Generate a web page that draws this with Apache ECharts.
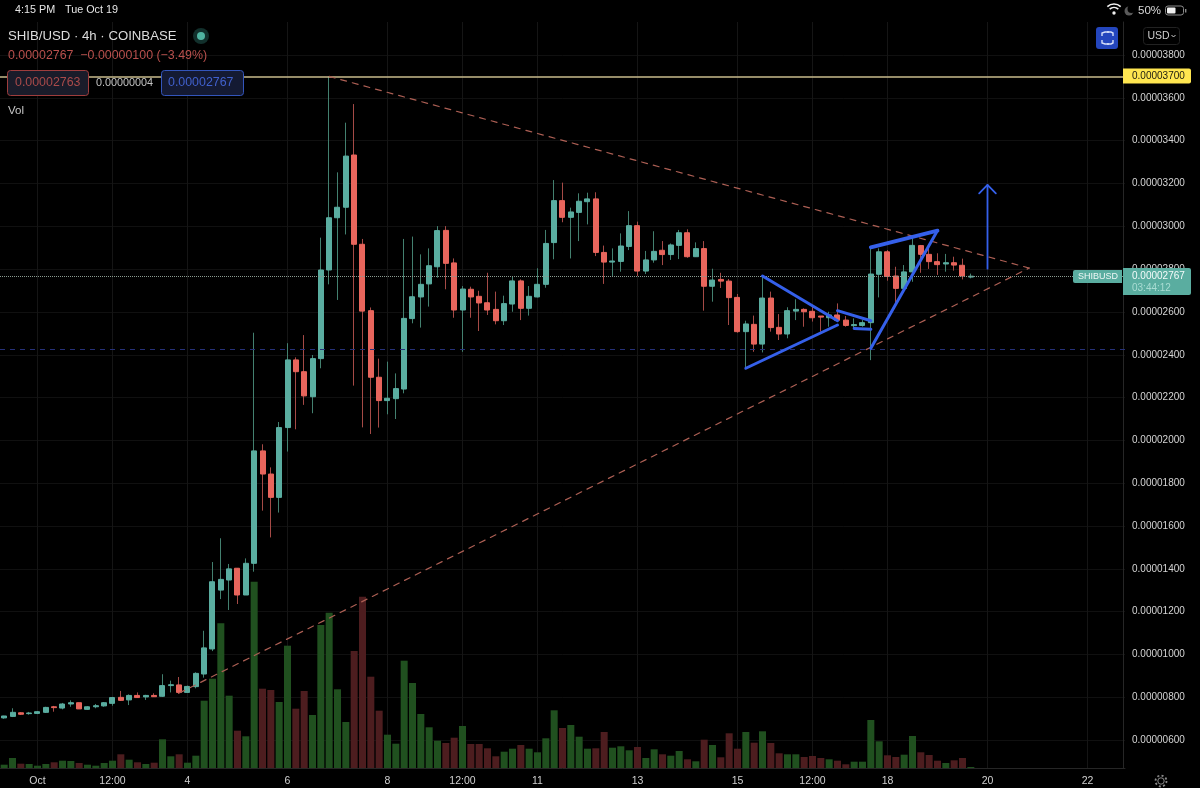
<!DOCTYPE html>
<html><head><meta charset="utf-8">
<style>html,body{margin:0;padding:0;background:#000}#c{width:1200px;height:788px}</style>
<script src="https://cdn.jsdelivr.net/npm/echarts@6/dist/echarts.min.js"></script>
</head><body><div id="c"></div>
<script>
// Prices are in units of 0.00000001 USD
const days = ['09-30','10-01','10-02','10-03','10-04','10-05','10-06','10-07','10-08','10-09','10-10','10-11','10-12','10-13','10-14','10-15','10-16','10-17','10-18','10-19','10-20','10-21','10-22','10-23'];
const hours = ['00:00','04:00','08:00','12:00','16:00','20:00'];
const categories = [];
days.forEach(d => hours.forEach(h => categories.push(d + ' ' + h)));
categories.splice(0, 2);
categories.length = 135;

const opens = [704,711,728,724,725,730,756,750,769,775,
744,756,760,772,800,788,809,802,809,805,
855,858,823,850,909,1026,1301,1348,1403,1278,
1426,1951,1843,1734,2060,2376,2321,2204,2382,2796,
3040,3089,3333,2916,2606,2295,2186,2195,2240,2569,
2670,2731,2811,2981,2829,2609,2706,2673,2643,2612,
2559,2637,2745,2617,2670,2729,2924,3120,3042,3065,
3115,3128,2878,2833,2836,2906,3003,2791,2843,2888,
2868,2911,2970,2858,2896,2720,2752,2744,2668,2508,
2542,2450,2665,2528,2497,2604,2612,2603,2581,2573,
2586,2562,2536,2537,2550,2776,2881,2768,2710,2787,
2910,2869,2835,2824,2830,2818,2763];
const closes = [713,730,721,727,733,753,752,769,775,746,
756,761,775,799,786,809,799,809,803,855,
859,823,851,912,1031,1340,1351,1400,1278,1426,
1951,1843,1734,2060,2376,2321,2208,2382,2796,3040,
3089,3328,2916,2604,2295,2186,2197,2242,2570,2671,
2729,2816,2980,2827,2609,2707,2670,2642,2609,2559,
2639,2745,2617,2673,2729,2920,3120,3042,3067,3117,
3128,2878,2833,2838,2908,3003,2791,2843,2883,2868,
2913,2970,2858,2896,2720,2749,2744,2667,2508,2544,
2450,2665,2527,2497,2606,2612,2601,2573,2576,2586,
2561,2537,2541,2550,2777,2881,2766,2710,2787,2911,
2869,2835,2821,2830,2819,2768,2767];
const highs = [714,749,730,732,736,756,760,774,786,775,
758,769,778,802,830,814,823,812,819,908,
878,895,855,917,1111,1432,1543,1423,1403,1449,
2503,1982,1874,2086,2454,2388,2492,2399,2947,3702,
3252,3484,3571,2941,2621,2382,2368,2313,2941,2952,
2869,2897,3001,3001,2850,2721,2718,2699,2783,2695,
2676,2765,2752,2721,2804,2983,3216,3204,3087,3154,
3157,3159,2910,2897,2967,3071,3022,2885,2977,2931,
2920,2983,2986,2925,2931,2802,2783,2754,2684,2559,
2583,2768,2695,2590,2622,2659,2617,2632,2581,2601,
2640,2581,2570,2562,2897,2897,2889,2811,2819,2955,
2913,2913,2874,2871,2858,2849,2779];
const lows = [700,708,718,719,722,727,733,744,756,746,
742,749,756,761,783,764,797,788,802,803,
823,816,822,842,892,1016,1259,1208,1236,1278,
1387,1672,1547,1663,1948,2052,2166,2127,2337,2729,
2656,2962,2256,2061,2030,2060,2122,2100,2220,2547,
2527,2625,2760,2706,2573,2414,2573,2511,2586,2542,
2539,2601,2562,2583,2668,2713,2846,3019,2850,2931,
3009,2861,2731,2768,2788,2889,2768,2777,2830,2819,
2843,2847,2853,2857,2606,2648,2712,2539,2503,2337,
2414,2411,2508,2469,2477,2562,2531,2555,2508,2531,
2559,2531,2523,2531,2375,2668,2746,2640,2710,2741,
2783,2801,2773,2788,2793,2752,2757];
const volumes = [3.3,10,4.3,4,2.3,4,5.7,7.3,7,5,
3.3,2.3,5,7.3,13.7,8.3,5.7,4,5.3,28.7,
11.7,13.7,5.3,12.3,67.3,89.3,144.7,72.3,37.3,31.7,
186.3,79.3,78,66,122.3,59.3,77,53,143,155.3,
78.7,46,117,171.3,91.3,57.3,33.3,24.3,107.3,85,
54,40.7,27.3,25,30.3,42,24,24,19.7,11.7,
16.3,19.3,23,19.3,15.7,29.7,57.7,40,43,31.3,
19.3,19.7,36,20.3,21.7,17.7,21,10,18.7,13.7,
12.3,17,8.7,6.7,28.3,23,10.7,34.7,19.3,36,
25.3,36.7,25,14.7,13.7,13.7,11,12,10,8.7,
7.3,3.7,6.3,6.3,48,26.7,12.7,11,13.3,32,
15.7,13,7.3,5,7.7,10,1];

const tickCategories = ['10-01 00:00','10-02 12:00','10-04 00:00','10-06 00:00','10-08 00:00','10-09 12:00','10-11 00:00','10-13 00:00','10-15 00:00','10-16 12:00','10-18 00:00','10-20 00:00','10-22 00:00'];
const tickLabels = ['Oct','12:00','4','6','8','12:00','11','13','15','12:00','18','20','22'];

const resistance = 3700;
const lastPrice = 2767;
const support = 2425;
const upperTrend = [[39,3700],[123,2805]];
const lowerTrend = [[21,820],[123,2805]];
const blueUpperA = [[91,2768],[100,2559]];
const blueLowerA = [[89,2337],[100,2539]];
const blueFlagTop = [[100,2606],[104,2559]];
const blueFlagBottom = [[102,2523],[104,2519]];
const blueWedgeTop = [[104,2902],[112,2980]];
const blueWedgeBottom = [[104,2430],[112,2980]];
const arrowShaft = [[118,2802],[118,3193]];
const arrowHead = [[117,3154],[118,3193],[119,3154]];

const UP = '#5aada0', DOWN = '#e8655c', WICK_UP = '#43806f', WICK_DOWN = '#a54a46';
const VUP = '#20501f', VDOWN = '#4d1d1f';
const BLUE = '#3560ea';
const FONT = '"Liberation Sans", Arial, sans-serif';
const fmt = v => (v / 1e8).toFixed(8);
const candles = opens.map((o, i) => [o, closes[i], lows[i], highs[i]]);
const bodies = opens.map((o, i) => [o, closes[i], Math.min(o, closes[i]), Math.max(o, closes[i])]);

function annot(name, data, color, width, type) {
  return {name, type:'line', xAxisIndex:1, yAxisIndex:1, data, symbol:'none', silent:true, z:6,
    lineStyle:{color, width, type: type || 'solid', cap:'round', join:'round'}, animation:false};
}
function txt(x, y, text, size, fill) {
  return {type:'text', z:100, style:{x, y, text, fontSize:size, fill, fontFamily:FONT, verticalAlign:'middle', align:'left'}};
}

const g = [
  {type:'rect', z:99, shape:{x:0,y:0,width:1200,height:21}, style:{fill:'#000'}},
  txt(15,10,'4:15 PM',10.8,'#e6e6e6'),
  txt(65,10,'Tue Oct 19',10.8,'#e6e6e6'),
  txt(8,36,'SHIB/USD · 4h · COINBASE',13.2,'#dcdcdc'),
  {type:'circle', z:100, shape:{cx:201,cy:36,r:8}, style:{fill:'#12302c'}},
  {type:'circle', z:101, shape:{cx:201,cy:36,r:4}, style:{fill:'#4fb3a0'}},
  txt(8,56,'0.00002767  −0.00000100 (−3.49%)',12.4,'#b9504d'),
  {type:'rect', z:100, shape:{x:7.5,y:70.5,width:81,height:25,r:3}, style:{fill:'#1a1c2a',stroke:'#9e3d3d',lineWidth:1}},
  txt(15,83,'0.00002763',12.4,'#a94a4a'),
  txt(96,83,'0.00000004',10.8,'#c4c4c4'),
  {type:'rect', z:100, shape:{x:161.5,y:70.5,width:82,height:25,r:3}, style:{fill:'#141a33',stroke:'#3355bb',lineWidth:1}},
  txt(168,83,'0.00002767',12.4,'#4060cc'),
  txt(8,111,'Vol',11.5,'#c8c8c8'),
  // status icons
  {type:'arc', z:100, shape:{cx:1114,cy:14,r:10,startAngle:-2.3,endAngle:-0.84}, style:{stroke:'#f0f0f0',lineWidth:1.7,fill:null}},
  {type:'arc', z:100, shape:{cx:1114,cy:14,r:6.5,startAngle:-2.3,endAngle:-0.84}, style:{stroke:'#f0f0f0',lineWidth:1.7,fill:null}},
  {type:'circle', z:100, shape:{cx:1114,cy:13,r:1.7}, style:{fill:'#f0f0f0'}},
  {type:'circle', z:100, shape:{cx:1129,cy:11,r:4.5}, style:{fill:'#5a5a5a'}},
  {type:'circle', z:101, shape:{cx:1131.5,cy:9,r:4}, style:{fill:'#000'}},
  txt(1138,10.5,'50%',11.5,'#d8d8d8'),
  {type:'rect', z:100, shape:{x:1165.5,y:6,width:18,height:9,r:2.5}, style:{fill:'none',stroke:'#8a8a8a',lineWidth:1}},
  {type:'rect', z:100, shape:{x:1167,y:7.5,width:8.5,height:6,r:1}, style:{fill:'#f0f0f0'}},
  {type:'rect', z:100, shape:{x:1185,y:9,width:1.4,height:3.5}, style:{fill:'#8a8a8a'}},
  // fullscreen button
  {type:'rect', z:100, shape:{x:1096,y:27,width:22,height:22,r:3}, style:{fill:'#2446bd'}},
  ...[[[1102,36],[1102,33],[1105,32],[1109,32]],[[1107,32],[1111,32],[1113,33],[1113,36]],[[1102,40],[1102,43],[1105,44],[1109,44]],[[1107,44],[1111,44],[1113,43],[1113,40]]].map(points =>
    ({type:'polyline', z:101, shape:{points}, style:{stroke:'#d5def8',lineWidth:1.4,fill:null}})),
  // currency selector
  {type:'rect', z:100, shape:{x:1143.5,y:27.5,width:36,height:17,r:3}, style:{fill:'#000',stroke:'#222',lineWidth:1}},
  txt(1147.5,36,'USD',10.5,'#cfcfcf'),
  {type:'polyline', z:101, shape:{points:[[1171.5,35],[1173.5,37],[1175.5,35]]}, style:{stroke:'#cfcfcf',lineWidth:1,fill:null}},
  // price tags
  {type:'rect', z:100, shape:{x:1123,y:68.5,width:68,height:15,r:[0,2,2,0]}, style:{fill:'#ffe650'}},
  txt(1132,76,'0.00003700',10,'#1a1a10'),
  {type:'rect', z:100, shape:{x:1073,y:270,width:49,height:13,r:[2,0,0,2]}, style:{fill:UP}},
  txt(1078,276.5,'SHIBUSD',9,'#eef7f5'),
  {type:'rect', z:100, shape:{x:1123,y:268,width:68,height:27,r:[0,2,2,0]}, style:{fill:UP}},
  txt(1132,276,'0.00002767',10,'#f4fbfa'),
  txt(1132,288,'03:44:12',10,'#a9dcd3'),
  // settings gear
  {type:'circle', z:100, shape:{cx:1161,cy:781,r:3.2}, style:{fill:'none',stroke:'#8a8a8a',lineWidth:1}},
  {type:'circle', z:100, shape:{cx:1161,cy:781,r:5.5}, style:{fill:'none',stroke:'#8a8a8a',lineWidth:1.8,lineDash:[2,2.3]}}
];

const chart = echarts.init(document.getElementById('c'), null, {renderer:'canvas'});
chart.setOption({
  animation:false,
  backgroundColor:'#000',
  textStyle:{fontFamily:FONT},
  graphic:{elements:g},
  grid:[
    {left:0, top:22, width:1125, height:746},
    {left:0, top:12.2, width:1125, height:770.8}
  ],
  xAxis:[
    {type:'category', gridIndex:0, data:categories, boundaryGap:true,
      axisLine:{show:true, lineStyle:{color:'#262626'}}, axisTick:{show:false},
      splitLine:{show:true, alignWithLabel:true, interval:(i,v)=>tickCategories.includes(v), lineStyle:{color:'#151515',width:1}},
      axisLabel:{show:true, margin:8, fontSize:10.5, color:'#d0d0d0', fontFamily:FONT,
        interval:(i,v)=>tickCategories.includes(v),
        formatter:v=>tickLabels[tickCategories.indexOf(v)] || ''}},
    {type:'category', gridIndex:1, data:categories, boundaryGap:true, show:false}
  ],
  yAxis:[
    {type:'value', gridIndex:0, min:0, max:746, position:'right', offset:-2,
      axisLine:{show:true, lineStyle:{color:'#262626'}}, axisTick:{show:false}, axisLabel:{show:false}, splitLine:{show:false}},
    {type:'value', gridIndex:1, min:400, max:4000, interval:200, position:'right', offset:-2,
      axisLine:{show:false}, axisTick:{show:false},
      splitLine:{show:true, showMinLine:false, showMaxLine:false, lineStyle:{color:'#101010',width:1}},
      axisLabel:{show:true, margin:9, fontSize:10, color:'#d4d4d4', fontFamily:FONT,
        formatter:v=>(v===400||v===4000)?'':fmt(v)}}
  ],
  series:[
    {name:'Vol', type:'bar', xAxisIndex:0, yAxisIndex:0, data:volumes, barWidth:7, z:1, silent:true,
      itemStyle:{color:p=>closes[p.dataIndex]>=opens[p.dataIndex]?VUP:VDOWN}},
    {name:'SHIBUSD wicks', type:'candlestick', xAxisIndex:1, yAxisIndex:1, data:candles, barWidth:1, z:3, silent:true,
      itemStyle:{color:WICK_UP,color0:WICK_DOWN,borderColor:WICK_UP,borderColor0:WICK_DOWN,borderWidth:1},
      markLine:{silent:true, symbol:'none', label:{show:false}, animation:false, data:[
        {yAxis:resistance, lineStyle:{color:'#c9bb8c',width:1.6,type:'solid'}},
        {yAxis:lastPrice, lineStyle:{color:'#8a9a90',width:1,type:'dotted'}},
        {yAxis:support, lineStyle:{color:'#26317a',width:1,type:[5,5]}}
      ]}},
    {name:'SHIBUSD', type:'candlestick', xAxisIndex:1, yAxisIndex:1, data:bodies, barWidth:5.5, z:4, silent:true,
      itemStyle:{color:UP,color0:DOWN,borderColor:UP,borderColor0:DOWN,borderWidth:1}},
    annot('upper trend', upperTrend, '#ad5f54', 1.2, [6,6]),
    annot('lower trend', lowerTrend, '#ad5f54', 1.2, [6,6]),
    annot('triangle upper', blueUpperA, BLUE, 3),
    annot('triangle lower', blueLowerA, BLUE, 3),
    annot('flag top', blueFlagTop, BLUE, 3),
    annot('flag bottom', blueFlagBottom, BLUE, 3),
    annot('wedge top', blueWedgeTop, BLUE, 3.8),
    annot('wedge bottom', blueWedgeBottom, BLUE, 3),
    annot('arrow shaft', arrowShaft, BLUE, 1.8),
    annot('arrow head', arrowHead, BLUE, 1.8)
  ]
});
</script></body></html>
